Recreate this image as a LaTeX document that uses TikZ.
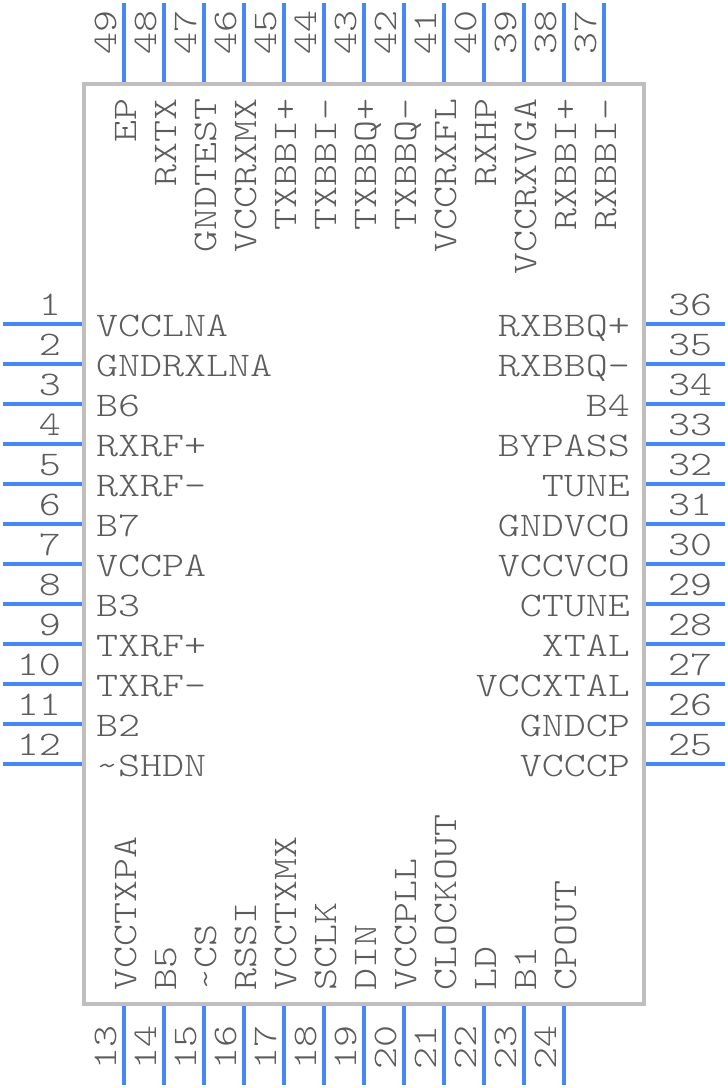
\documentclass[tikz,border=0pt]{standalone}
\usepackage{fontspec}
\setmonofont[FakeStretch=1.215]{Latin Modern Mono Light}
\definecolor{pinblue}{HTML}{4488F0}
\definecolor{bodygray}{HTML}{BFBFBF}
\definecolor{textgray}{HTML}{5C5C5C}
\tikzset{
	pinline/.style={draw=pinblue, line width=3.5pt},
	chiptext/.style={text=textgray, inner sep=0pt, font=\fontsize{34.5pt}{34.5pt}\ttfamily},
	numleft/.style={chiptext, anchor=base east},
	numright/.style={chiptext, anchor=base west},
	numvert/.style={chiptext, anchor=base west, rotate=90},
	nameleft/.style={chiptext, anchor=base west},
	nameright/.style={chiptext, anchor=base east},
	nametop/.style={chiptext, anchor=base east, rotate=90},
	namebottom/.style={chiptext, anchor=base west, rotate=90},
}
\begin{document}
\begin{tikzpicture}[x=1pt, y=-1pt]
	\useasboundingbox (0,0) rectangle (728,1088);
	% chip outline
	\node [draw=bodygray, line width=3.5pt, inner sep=0pt, minimum width=560pt, minimum height=920pt] (body) at (364,544) {};
	% left pins
	\coordinate (pin1) at (3,324);	\draw [pinline] (pin1) -- (pin1 -| body.west);
	\coordinate (pin2) at (3,364);	\draw [pinline] (pin2) -- (pin2 -| body.west);
	\coordinate (pin3) at (3,404);	\draw [pinline] (pin3) -- (pin3 -| body.west);
	\coordinate (pin4) at (3,444);	\draw [pinline] (pin4) -- (pin4 -| body.west);
	\coordinate (pin5) at (3,484);	\draw [pinline] (pin5) -- (pin5 -| body.west);
	\coordinate (pin6) at (3,524);	\draw [pinline] (pin6) -- (pin6 -| body.west);
	\coordinate (pin7) at (3,564);	\draw [pinline] (pin7) -- (pin7 -| body.west);
	\coordinate (pin8) at (3,604);	\draw [pinline] (pin8) -- (pin8 -| body.west);
	\coordinate (pin9) at (3,644);	\draw [pinline] (pin9) -- (pin9 -| body.west);
	\coordinate (pin10) at (3,684);	\draw [pinline] (pin10) -- (pin10 -| body.west);
	\coordinate (pin11) at (3,724);	\draw [pinline] (pin11) -- (pin11 -| body.west);
	\coordinate (pin12) at (3,764);	\draw [pinline] (pin12) -- (pin12 -| body.west);
	% bottom pins
	\coordinate (pin13) at (124,1085);	\draw [pinline] (pin13) -- (pin13 |- body.south);
	\coordinate (pin14) at (164,1085);	\draw [pinline] (pin14) -- (pin14 |- body.south);
	\coordinate (pin15) at (204,1085);	\draw [pinline] (pin15) -- (pin15 |- body.south);
	\coordinate (pin16) at (244,1085);	\draw [pinline] (pin16) -- (pin16 |- body.south);
	\coordinate (pin17) at (284,1085);	\draw [pinline] (pin17) -- (pin17 |- body.south);
	\coordinate (pin18) at (324,1085);	\draw [pinline] (pin18) -- (pin18 |- body.south);
	\coordinate (pin19) at (364,1085);	\draw [pinline] (pin19) -- (pin19 |- body.south);
	\coordinate (pin20) at (404,1085);	\draw [pinline] (pin20) -- (pin20 |- body.south);
	\coordinate (pin21) at (444,1085);	\draw [pinline] (pin21) -- (pin21 |- body.south);
	\coordinate (pin22) at (484,1085);	\draw [pinline] (pin22) -- (pin22 |- body.south);
	\coordinate (pin23) at (524,1085);	\draw [pinline] (pin23) -- (pin23 |- body.south);
	\coordinate (pin24) at (564,1085);	\draw [pinline] (pin24) -- (pin24 |- body.south);
	% right pins
	\coordinate (pin25) at (725,764);	\draw [pinline] (pin25) -- (pin25 -| body.east);
	\coordinate (pin26) at (725,724);	\draw [pinline] (pin26) -- (pin26 -| body.east);
	\coordinate (pin27) at (725,684);	\draw [pinline] (pin27) -- (pin27 -| body.east);
	\coordinate (pin28) at (725,644);	\draw [pinline] (pin28) -- (pin28 -| body.east);
	\coordinate (pin29) at (725,604);	\draw [pinline] (pin29) -- (pin29 -| body.east);
	\coordinate (pin30) at (725,564);	\draw [pinline] (pin30) -- (pin30 -| body.east);
	\coordinate (pin31) at (725,524);	\draw [pinline] (pin31) -- (pin31 -| body.east);
	\coordinate (pin32) at (725,484);	\draw [pinline] (pin32) -- (pin32 -| body.east);
	\coordinate (pin33) at (725,444);	\draw [pinline] (pin33) -- (pin33 -| body.east);
	\coordinate (pin34) at (725,404);	\draw [pinline] (pin34) -- (pin34 -| body.east);
	\coordinate (pin35) at (725,364);	\draw [pinline] (pin35) -- (pin35 -| body.east);
	\coordinate (pin36) at (725,324);	\draw [pinline] (pin36) -- (pin36 -| body.east);
	% top pins
	\coordinate (pin37) at (604,3);	\draw [pinline] (pin37) -- (pin37 |- body.north);
	\coordinate (pin38) at (564,3);	\draw [pinline] (pin38) -- (pin38 |- body.north);
	\coordinate (pin39) at (524,3);	\draw [pinline] (pin39) -- (pin39 |- body.north);
	\coordinate (pin40) at (484,3);	\draw [pinline] (pin40) -- (pin40 |- body.north);
	\coordinate (pin41) at (444,3);	\draw [pinline] (pin41) -- (pin41 |- body.north);
	\coordinate (pin42) at (404,3);	\draw [pinline] (pin42) -- (pin42 |- body.north);
	\coordinate (pin43) at (364,3);	\draw [pinline] (pin43) -- (pin43 |- body.north);
	\coordinate (pin44) at (324,3);	\draw [pinline] (pin44) -- (pin44 |- body.north);
	\coordinate (pin45) at (284,3);	\draw [pinline] (pin45) -- (pin45 |- body.north);
	\coordinate (pin46) at (244,3);	\draw [pinline] (pin46) -- (pin46 |- body.north);
	\coordinate (pin47) at (204,3);	\draw [pinline] (pin47) -- (pin47 |- body.north);
	\coordinate (pin48) at (164,3);	\draw [pinline] (pin48) -- (pin48 |- body.north);
	\coordinate (pin49) at (124,3);	\draw [pinline] (pin49) -- (pin49 |- body.north);
	% left text
	\node [numleft] (num1) at (61,315.5) {1};	\node [nameleft] (name1) at (96,336) {VCCLNA};
	\node [numleft] (num2) at (61,355.5) {2};	\node [nameleft] (name2) at (96,376) {GNDRXLNA};
	\node [numleft] (num3) at (61,395.5) {3};	\node [nameleft] (name3) at (96,416) {B6};
	\node [numleft] (num4) at (61,435.5) {4};	\node [nameleft] (name4) at (96,456) {RXRF+};
	\node [numleft] (num5) at (61,475.5) {5};	\node [nameleft] (name5) at (96,496) {RXRF-};
	\node [numleft] (num6) at (61,515.5) {6};	\node [nameleft] (name6) at (96,536) {B7};
	\node [numleft] (num7) at (61,555.5) {7};	\node [nameleft] (name7) at (96,576) {VCCPA};
	\node [numleft] (num8) at (61,595.5) {8};	\node [nameleft] (name8) at (96,616) {B3};
	\node [numleft] (num9) at (61,635.5) {9};	\node [nameleft] (name9) at (96,656) {TXRF+};
	\node [numleft] (num10) at (61,675.5) {10};	\node [nameleft] (name10) at (96,696) {TXRF-};
	\node [numleft] (num11) at (61,715.5) {11};	\node [nameleft] (name11) at (96,736) {B2};
	\node [numleft] (num12) at (61,755.5) {12};	\node [nameleft] (name12) at (96,776) {\string~SHDN};
	% bottom text
	\node [numvert] (num13) at (116,1070) {13};	\node [namebottom] (name13) at (136,991) {VCCTXPA};
	\node [numvert] (num14) at (156,1070) {14};	\node [namebottom] (name14) at (176,991) {B5};
	\node [numvert] (num15) at (196,1070) {15};	\node [namebottom] (name15) at (216,991) {\string~CS};
	\node [numvert] (num16) at (236,1070) {16};	\node [namebottom] (name16) at (256,991) {RSSI};
	\node [numvert] (num17) at (276,1070) {17};	\node [namebottom] (name17) at (296,991) {VCCTXMX};
	\node [numvert] (num18) at (316,1070) {18};	\node [namebottom] (name18) at (336,991) {SCLK};
	\node [numvert] (num19) at (356,1070) {19};	\node [namebottom] (name19) at (376,991) {DIN};
	\node [numvert] (num20) at (396,1070) {20};	\node [namebottom] (name20) at (416,991) {VCCPLL};
	\node [numvert] (num21) at (436,1070) {21};	\node [namebottom] (name21) at (456,991) {CLOCKOUT};
	\node [numvert] (num22) at (476,1070) {22};	\node [namebottom] (name22) at (496,991) {LD};
	\node [numvert] (num23) at (516,1070) {23};	\node [namebottom] (name23) at (536,991) {B1};
	\node [numvert] (num24) at (556,1070) {24};	\node [namebottom] (name24) at (576,991) {CPOUT};
	% right text
	\node [numright] (num25) at (668,755.5) {25};	\node [nameright] (name25) at (630,776) {VCCCP};
	\node [numright] (num26) at (668,715.5) {26};	\node [nameright] (name26) at (630,736) {GNDCP};
	\node [numright] (num27) at (668,675.5) {27};	\node [nameright] (name27) at (630,696) {VCCXTAL};
	\node [numright] (num28) at (668,635.5) {28};	\node [nameright] (name28) at (630,656) {XTAL};
	\node [numright] (num29) at (668,595.5) {29};	\node [nameright] (name29) at (630,616) {CTUNE};
	\node [numright] (num30) at (668,555.5) {30};	\node [nameright] (name30) at (630,576) {VCCVCO};
	\node [numright] (num31) at (668,515.5) {31};	\node [nameright] (name31) at (630,536) {GNDVCO};
	\node [numright] (num32) at (668,475.5) {32};	\node [nameright] (name32) at (630,496) {TUNE};
	\node [numright] (num33) at (668,435.5) {33};	\node [nameright] (name33) at (630,456) {BYPASS};
	\node [numright] (num34) at (668,395.5) {34};	\node [nameright] (name34) at (630,416) {B4};
	\node [numright] (num35) at (668,355.5) {35};	\node [nameright] (name35) at (630,376) {RXBBQ-};
	\node [numright] (num36) at (668,315.5) {36};	\node [nameright] (name36) at (630,336) {RXBBQ+};
	% top text
	\node [numvert] (num37) at (596,55) {37};	\node [nametop] (name37) at (616,98) {RXBBI-};
	\node [numvert] (num38) at (556,55) {38};	\node [nametop] (name38) at (576,98) {RXBBI+};
	\node [numvert] (num39) at (516,55) {39};	\node [nametop] (name39) at (536,98) {VCCRXVGA};
	\node [numvert] (num40) at (476,55) {40};	\node [nametop] (name40) at (496,98) {RXHP};
	\node [numvert] (num41) at (436,55) {41};	\node [nametop] (name41) at (456,98) {VCCRXFL};
	\node [numvert] (num42) at (396,55) {42};	\node [nametop] (name42) at (416,98) {TXBBQ-};
	\node [numvert] (num43) at (356,55) {43};	\node [nametop] (name43) at (376,98) {TXBBQ+};
	\node [numvert] (num44) at (316,55) {44};	\node [nametop] (name44) at (336,98) {TXBBI-};
	\node [numvert] (num45) at (276,55) {45};	\node [nametop] (name45) at (296,98) {TXBBI+};
	\node [numvert] (num46) at (236,55) {46};	\node [nametop] (name46) at (256,98) {VCCRXMX};
	\node [numvert] (num47) at (196,55) {47};	\node [nametop] (name47) at (216,98) {GNDTEST};
	\node [numvert] (num48) at (156,55) {48};	\node [nametop] (name48) at (176,98) {RXTX};
	\node [numvert] (num49) at (116,55) {49};	\node [nametop] (name49) at (136,98) {EP};
\end{tikzpicture}
\end{document}
